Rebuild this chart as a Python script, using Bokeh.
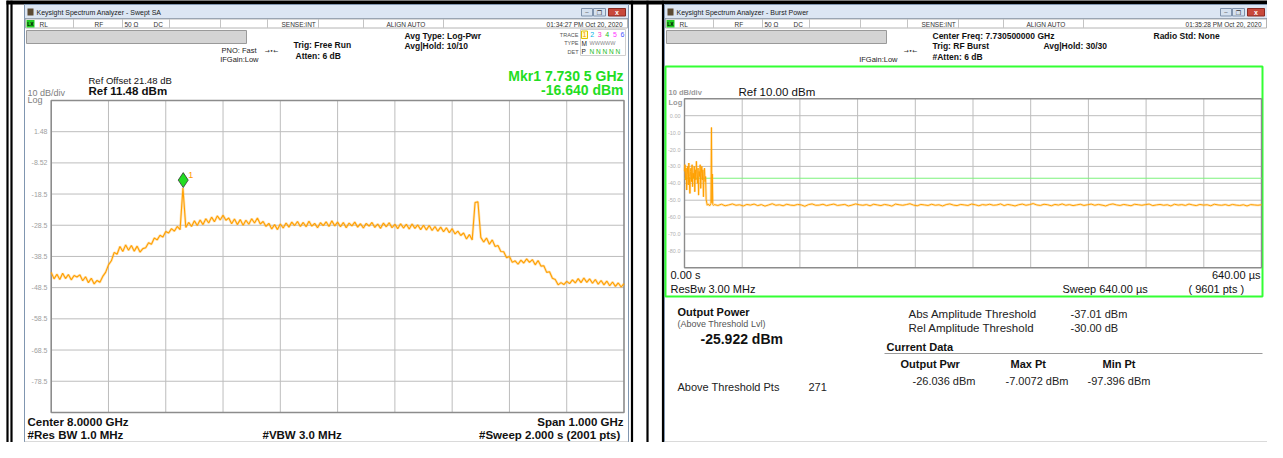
import numpy as np
from bokeh.plotting import figure
from bokeh.models import Range1d
from bokeh.core.properties import value
from bokeh.embed import file_html
from bokeh.resources import INLINE

# ---------------- data: left window (Swept SA) ----------------
swept_start_ghz = 7.5
swept_stop_ghz = 8.5
swept_ref_dbm = 11.48
swept_bottom_dbm = -88.52
swept_ticks_db = [1.48, -8.52, -18.5, -28.5, -38.5, -48.5, -58.5, -68.5, -78.5]
swept_tick_labels = ["1.48", "-8.52", "-18.5", "-28.5", "-38.5", "-48.5", "-58.5", "-68.5", "-78.5"]
swept_dbm = [  # 201 points, 5 MHz apart
    -43.6, -45.7, -44.2, -45.9, -43.9, -45.6, -44.3, -46.0, -44.6, -45.1,
    -44.4, -46.3, -45.0, -46.9, -45.5, -47.3, -46.2, -46.8, -44.9, -43.6, -41.2,
    -39.9, -37.2, -37.8, -35.3, -36.9, -34.8, -36.5, -35.0, -36.8, -35.2,
    -37.1, -36.0, -35.7, -34.1, -34.6, -32.6, -33.2, -31.7, -32.3, -30.5,
    -31.0, -29.6, -30.4, -28.9, -29.9, -16.6, -29.2, -27.6, -28.9, -27.1,
    -28.6, -26.8, -28.3, -26.4, -27.8, -25.9, -27.4, -25.5, -26.8, -25.3,
    -26.9, -26.2, -28.0, -26.5, -28.3, -26.7, -28.5, -26.9, -28.2, -26.4,
    -27.8, -26.2, -28.1, -27.3, -28.9, -27.9, -29.7, -28.3, -29.9, -28.1,
    -29.4, -27.8, -29.1, -27.5, -28.6, -27.3, -28.9, -27.6, -29.0, -27.2,
    -28.8, -27.9, -29.3, -27.7, -28.6, -27.4, -28.9, -27.1, -28.7, -27.5,
    -29.0, -27.6, -29.3, -27.8, -28.7, -27.5, -29.1, -28.0, -29.4, -27.9,
    -28.8, -27.6, -29.2, -28.1, -29.5, -27.8, -29.0, -27.7, -29.3, -28.2,
    -29.6, -28.0, -29.4, -28.2, -29.7, -28.1, -29.5, -28.4, -29.9, -28.5,
    -30.0, -28.6, -30.2, -28.9, -30.4, -29.1, -30.6, -29.3, -30.9, -29.6,
    -31.3, -30.4, -31.8, -31.0, -32.9, -31.5, -33.2, -21.2, -21.0, -32.4,
    -33.9, -32.6, -34.6, -33.2, -35.3, -35.0, -36.9, -37.0, -38.9, -38.5,
    -40.4, -39.9, -41.0, -39.7, -40.6, -39.3, -40.4, -39.5, -41.2, -39.8,
    -41.6, -41.5, -43.6, -43.4, -45.5, -45.9, -47.6, -46.9, -47.5, -46.5,
    -47.2, -46.0, -47.0, -45.6, -46.9, -45.4, -46.8, -45.7, -47.1, -45.9,
    -47.4, -46.2, -47.6, -46.4, -47.9, -46.7, -48.1, -47.0, -48.3, -47.2,
]
marker_ghz = 7.7305
marker_dbm = -16.640

# ---------------- data: right window (Burst Power) ----------------
burst_sweep_us = 640.0
burst_ref_dbm = 10.0
burst_bottom_dbm = -90.0
burst_ticks_db = [0, -10, -20, -30, -40, -50, -60, -70, -80]
burst_tick_labels = ["0.00", "-10.0", "-20.0", "-30.0", "-40.0", "-50.0", "-60.0", "-70.0", "-80.0"]
burst_on_dbm = [  # 0 .. 23.4 us, 0.6 us apart
    -33, -29, -38, -31, -44, -35, -30, -41, -28, -36,
    -46, -33, -31, -39, -29, -42, -34, -37, -30, -45,
    -32, -38, -27, -35, -40, -31, -47, -33, -36, -29,
    -43, -34, -30, -38, -32, -48, -35, -31, -39, -36,
]
spike_us = [24.0, 25.2, 26.5, 27.8, 29.3, 29.9, 30.4, 30.9, 31.4, 32.2]
spike_dbm = [-49.5, -53.0, -52.2, -53.4, -52.0, -7.0, -51.5, -34.5, -52.6, -53.1]
floor_dbm = [  # 33 .. 640 us
    -52.6, -53.1, -52.4, -53.3, -52.8, -52.2, -53.0, -52.7, -53.4, -52.5,
    -52.9, -52.3, -53.2, -52.6, -53.5, -52.8, -52.1, -53.0, -52.7, -53.3,
    -52.4, -52.9, -53.1, -52.5, -52.8, -53.6, -52.6, -52.2, -53.0, -52.9,
    -52.4, -53.2, -52.7, -52.3, -53.1, -52.8, -52.5, -53.4, -52.9, -52.2,
    -52.7, -53.0, -52.6, -53.3, -52.4, -52.8, -53.2, -52.5, -52.9, -53.5,
    -52.3, -52.7, -53.0, -52.6, -52.1, -52.9, -53.3, -52.5, -52.8, -53.1,
    -52.4, -53.0, -52.7, -53.4, -52.6, -52.2, -52.9, -53.2, -52.5, -52.8,
    -53.1, -52.3, -52.7, -53.3, -52.6, -52.9, -52.4, -53.0, -52.8, -52.2,
    -53.2, -52.5, -52.9, -53.4, -52.7, -52.3, -53.0, -52.6, -52.0, -52.8,
    -53.1, -52.4, -52.7, -53.3, -52.5, -52.9, -52.2, -53.0, -52.6, -53.2,
    -52.8, -52.4, -53.1, -52.7, -52.3, -53.0, -52.5, -52.9, -53.4, -52.6,
    -52.2, -52.8, -53.1, -52.5, -52.9, -53.3, -52.4, -52.7, -53.0, -52.6,
    -52.3, -53.2, -52.8, -52.5, -53.0, -52.7, -53.4, -52.4, -52.9, -52.6,
    -53.1, -52.3, -52.8, -53.2, -52.5, -52.9, -52.7, -53.3, -52.4, -52.8,
    -53.0, -52.6, -53.2, -52.5, -52.9, -53.1, -52.7, -53.4, -52.6, -52.8,
    -53.0, -52.7,
]
abs_threshold_dbm = -37.01

# ---------------- layout (reference pixel coordinates) ----------------
FX0, FX1, FY0, FY1 = 0, 1267, 0, 442          # area of the reference covered by the canvas
LWX = (24, 628)                                 # left window
RWX = (664, 1267)                               # right window
LPX, LPY = (50.7, 623.5), (100.0, 412.0)        # left plot frame
RPX, RPY = (684.0, 1261.0), (98.3, 267.3)       # right plot frame
FONT = "Liberation Sans"

p = figure(width=FX1 - FX0, height=FY1 - FY0, x_range=Range1d(FX0, FX1), y_range=Range1d(FY1, FY0),
           output_backend="svg", toolbar_location=None, min_border=0,
           x_axis_location=None, y_axis_location=None)
p.grid.visible = False
p.outline_line_color = None
p.background_fill_color = "white"
p.border_fill_color = "white"


def mapped_range(d_a, d_b, px_a, px_b, frame_a, frame_b):
    k = (d_b - d_a) / (px_b - px_a)
    return Range1d(start=d_a + (frame_a - px_a) * k, end=d_a + (frame_b - px_a) * k)


p.extra_x_ranges = {
    "lf": mapped_range(swept_start_ghz, swept_stop_ghz, LPX[0], LPX[1], FX0, FX1),
    "rt": mapped_range(0.0, burst_sweep_us, RPX[0], RPX[1], FX0, FX1),
}
p.extra_y_ranges = {
    "ld": mapped_range(swept_ref_dbm, swept_bottom_dbm, LPY[0], LPY[1], FY1, FY0),
    "rd": mapped_range(burst_ref_dbm, burst_bottom_dbm, RPY[0], RPY[1], FY1, FY0),
}


def T(x, y, s, size=8, color="#000000", bold=False, align="left", font=FONT, **kw):
    p.text(x=[x], y=[y], text=[s], text_font=value(font), text_font_size=f"{size}px",
           text_color=color, text_align=align, text_baseline="middle",
           text_font_style="bold" if bold else "normal", **kw)


def box(l, r, t, b, fill="white", line="#9a9a9a", lw=1, **kw):
    p.quad(left=l, right=r, top=t, bottom=b, fill_color=fill, line_color=line, line_width=lw, **kw)


def hline(x0, x1, y, color="#b0b0b0", lw=1):
    p.segment(x0=[x0], y0=[y], x1=[x1], y1=[y], line_color=color, line_width=lw)


def vline(x, y0, y1, color="#b0b0b0", lw=1):
    p.segment(x0=[x], y0=[y0], x1=[x], y1=[y1], line_color=color, line_width=lw)


# black frame lines of the composite image
box(6, 1283, -2, 4, fill="#000000", line=None)
for bx in (7, 11, 631.5, 647, 662.5, 1269):
    vline(bx, 0, 460, color="#000000", lw=2.2)


def window(x0, x1, title, clock):
    box(x0, x1, 4, 460, fill="white", line="#8096b0")
    box(x0, x1, 4, 18, fill="#dce6f3", line="#8096b0")
    box(x0 + 3, x0 + 9, 8, 15, fill="#5c4b33", line=None)
    T(x0 + 12, 11.5, title, 7, "#1a1a1a")
    box(x1 - 47, x1 - 36, 8, 15.5, fill="#d5e1ef", line="#7f93ad")
    box(x1 - 35, x1 - 23, 8, 15.5, fill="#d5e1ef", line="#7f93ad")
    box(x1 - 20, x1 - 3, 8, 15.5, fill="#c8493c", line="#8a2a22")
    T(x1 - 41.5, 11.5, "–", 6, "#333333", align="center")
    T(x1 - 29, 11.5, "❐", 6, "#333333", align="center", font="DejaVu Sans")
    T(x1 - 11.5, 11.5, "x", 7, "#ffffff", bold=True, align="center")
    # status row
    box(x0 + 1, x1 - 1, 18.5, 27.5, fill="white", line="#b4b4b4")
    box(x0 + 2, x0 + 10, 19.5, 27, fill="#22cc22", line=None)
    T(x0 + 6, 23.5, "LX", 5, "#000000", bold=True, align="center")
    for off in (49, 98, 145, 196, 243, 294, 339, 419):
        vline(x0 + off, 18.5, 27.5, color="#c4c4c4")
    T(x0 + 15, 23.5, "RL", 6.5, "#333333")
    T(x0 + 70, 23.5, "RF", 6.5, "#333333")
    T(x0 + 100, 23.5, "50 Ω", 6.5, "#333333")
    T(x0 + 129, 23.5, "DC", 6.5, "#333333")
    T(x0 + 257, 23.5, "SENSE:INT", 6.5, "#333333")
    T(x0 + 362, 23.5, "ALIGN AUTO", 6.5, "#333333")
    T(x1 - 6, 23.5, clock, 6.5, "#333333", align="right")
    # grey bar
    box(x0 + 2, x0 + 222, 30, 43, fill="#d4d4d4", line="#9a9a9a")
    # message row border (row itself lies below the canvas)
    hline(x0, x1, 441.5, color="#b4b4b4")


window(LWX[0], LWX[1], "Keysight Spectrum Analyzer - Swept SA", "01:34:27 PM Oct 20, 2020")
window(RWX[0], RWX[1], "Keysight Spectrum Analyzer - Burst Power", "01:35:28 PM Oct 20, 2020")

# ---------------- left window: settings text ----------------
T(256, 49.5, "PNO: Fast", 7.5, "#222222", align="right")
T(258, 58.5, "IFGain:Low", 7.5, "#222222", align="right")
T(271, 49.5, "→•←", 6, "#333333", align="center", font="DejaVu Sans")
T(293, 44.5, "Trig: Free Run", 8.5, "#111111", bold=True)
T(295, 55.5, "Atten: 6 dB", 8.5, "#111111", bold=True)
T(404, 35, "Avg Type: Log-Pwr", 8.5, "#111111", bold=True)
T(404, 45.5, "Avg|Hold: 10/10", 8.5, "#111111", bold=True)
box(580, 625, 29, 55, fill="white", line="#d0d0d0")
T(578, 34, "TRACE", 5.5, "#555555", align="right")
T(578, 42.5, "TYPE", 5.5, "#555555", align="right")
T(578, 51, "DET", 5.5, "#555555", align="right")
box(581, 587, 30.5, 38, fill="#ffffcc", line="#e0c000")
for i, (d, c) in enumerate(zip("123456", ["#ff9900", "#00b4e6", "#ff33cc", "#22bb22", "#ff33ff", "#4455ff"])):
    T(584 + i * 7.6, 34, d, 7, c, align="center")
T(581, 42.5, "M", 6.5, "#222222")
T(589, 42.5, "WWWWW", 5.5, "#888888")
T(581, 51, "P", 6.5, "#222222")
T(589, 51, "N N N N N", 6.5, "#22bb22")

T(88, 80, "Ref Offset 21.48 dB", 9.5, "#111111")
T(88, 90.5, "Ref 11.48 dBm", 11.5, "#111111", bold=True)
T(27, 92, "10 dB/div", 9, "#808080")
T(27, 99.5, "Log", 9, "#808080")
T(623, 75, "Mkr1 7.730 5 GHz", 14, "#22dd22", bold=True, align="right")
T(623, 89.5, f"{marker_dbm:.3f} dBm", 14, "#22dd22", bold=True, align="right")

# left plot grid + frame
lf_grid_x = list(np.linspace(swept_start_ghz, swept_stop_ghz, 11)[1:-1])
p.segment(x0=lf_grid_x, y0=[swept_ref_dbm] * 9, x1=lf_grid_x, y1=[swept_bottom_dbm] * 9,
          line_color="#bdbdbd", x_range_name="lf", y_range_name="ld")
p.segment(x0=[swept_start_ghz] * 9, y0=swept_ticks_db, x1=[swept_stop_ghz] * 9, y1=swept_ticks_db,
          line_color="#bdbdbd", x_range_name="lf", y_range_name="ld")
p.quad(left=swept_start_ghz, right=swept_stop_ghz, top=swept_ref_dbm, bottom=swept_bottom_dbm,
       fill_color=None, line_color="#8c8c8c", line_width=1.6, x_range_name="lf", y_range_name="ld")
p.text(x=[47] * 9, y=swept_ticks_db, text=swept_tick_labels, y_range_name="ld",
       text_font=value(FONT), text_font_size="7px", text_color="#a0a0a0",
       text_align="right", text_baseline="middle")

swept_ghz = np.linspace(swept_start_ghz, swept_stop_ghz, len(swept_dbm))
p.line(swept_ghz, swept_dbm, line_color="#ffb030", line_width=2.6, line_alpha=0.35,
       x_range_name="lf", y_range_name="ld")
p.line(swept_ghz, swept_dbm, line_color="#ffa000", line_width=1.1,
       x_range_name="lf", y_range_name="ld")
MKR_LIFT_DB = 2.6
p.scatter([marker_ghz], [marker_dbm + MKR_LIFT_DB], marker="diamond", size=15,
          fill_color="#22dd22", line_color="#333333", line_width=0.8,
          x_range_name="lf", y_range_name="ld")
p.text(x=[marker_ghz], y=[marker_dbm], text=["1"], x_offset=5, y_offset=-13,
       text_font=value(FONT), text_font_size="9px", text_color="#ff9900",
       text_baseline="middle", x_range_name="lf", y_range_name="ld")

T(27, 421, "Center 8.0000 GHz", 11.5, "#111111", bold=True)
T(623, 421, "Span 1.000 GHz", 11.5, "#111111", bold=True, align="right")
T(27, 434, "#Res BW 1.0 MHz", 11.5, "#111111", bold=True)
T(262, 434, "#VBW 3.0 MHz", 11.5, "#111111", bold=True)
T(623, 434, "#Sweep  2.000 s (2001 pts)", 11.5, "#111111", bold=True, align="right")

# ---------------- right window ----------------
T(932, 35, "Center Freq: 7.730500000 GHz", 8.5, "#111111", bold=True)
T(932, 45.5, "Trig: RF Burst", 8.5, "#111111", bold=True)
T(932, 56, "#Atten: 6 dB", 8.5, "#111111", bold=True)
T(1043, 45.5, "Avg|Hold: 30/30", 8.5, "#111111", bold=True)
T(1153, 35, "Radio Std: None", 8.5, "#111111", bold=True)
T(897, 58.5, "IFGain:Low", 7.5, "#222222", align="right")
T(910, 49.5, "→•←", 6, "#333333", align="center", font="DejaVu Sans")

box(665, 1262, 66, 296, fill="white", line="#33ff33", lw=2)
T(668, 91.5, "10 dB/div", 7.5, "#9a9a9a", bold=True)
T(668, 101.5, "Log", 7.5, "#9a9a9a", bold=True)
T(738, 91.5, "Ref 10.00 dBm", 11.5, "#111111")

rt_grid_x = list(np.linspace(0.0, burst_sweep_us, 11)[1:-1])
p.segment(x0=rt_grid_x, y0=[burst_ref_dbm] * 9, x1=rt_grid_x, y1=[burst_bottom_dbm] * 9,
          line_color="#bdbdbd", x_range_name="rt", y_range_name="rd")
p.segment(x0=[0.0] * 9, y0=burst_ticks_db, x1=[burst_sweep_us] * 9, y1=burst_ticks_db,
          line_color="#bdbdbd", x_range_name="rt", y_range_name="rd")
p.quad(left=0.0, right=burst_sweep_us, top=burst_ref_dbm, bottom=burst_bottom_dbm,
       fill_color=None, line_color="#8c8c8c", line_width=1.4, x_range_name="rt", y_range_name="rd")
p.text(x=[680] * 9, y=burst_ticks_db, text=burst_tick_labels, y_range_name="rd",
       text_font=value(FONT), text_font_size="5.5px", text_color="#b0b0b0",
       text_align="right", text_baseline="middle")
p.segment(x0=[0.0], y0=[abs_threshold_dbm], x1=[burst_sweep_us], y1=[abs_threshold_dbm],
          line_color="#7cf27c", line_width=1, x_range_name="rt", y_range_name="rd")

burst_t = list(np.arange(len(burst_on_dbm)) * 0.6)
floor_t = list(np.linspace(33.0, burst_sweep_us, len(floor_dbm)))
rt_t = burst_t + spike_us + floor_t
rt_db = burst_on_dbm + spike_dbm + floor_dbm
p.line(rt_t, rt_db, line_color="#ffb030", line_width=2.6, line_alpha=0.3,
       x_range_name="rt", y_range_name="rd")
p.line(rt_t, rt_db, line_color="#ffa000", line_width=1.0, x_range_name="rt", y_range_name="rd")

T(670, 274.5, "0.00 s", 11, "#111111")
T(670, 288.5, "ResBw 3.00 MHz", 11, "#111111")
T(1260, 274.5, "640.00 µs", 11, "#111111", align="right")
T(1062, 288.5, "Sweep 640.00 µs", 11, "#111111")
T(1188, 288.5, "( 9601 pts )", 11, "#111111")

# results panel
T(677, 311.5, "Output Power", 11, "#111111", bold=True)
T(677, 323.5, "(Above Threshold Lvl)", 9, "#555555")
T(700, 338.5, "-25.922 dBm", 14, "#111111", bold=True)
T(908, 313, "Abs Amplitude Threshold", 11.5, "#222222")
T(908, 327, "Rel Amplitude Threshold", 11.5, "#222222")
T(1070, 313, f"{abs_threshold_dbm:.2f} dBm", 11, "#222222")
T(1070, 327, "-30.00 dB", 11, "#222222")
T(886, 346, "Current Data", 11, "#111111", bold=True)
hline(884, 1262, 353, color="#9a9a9a")
T(900, 363.5, "Output Pwr", 11, "#111111", bold=True)
T(1010, 363.5, "Max Pt", 11, "#111111", bold=True)
T(1102, 363.5, "Min Pt", 11, "#111111", bold=True)
T(912, 380, "-26.036 dBm", 11, "#222222")
T(1005, 380, "-7.0072 dBm", 11, "#222222")
T(1087, 380, "-97.396 dBm", 11, "#222222")
T(677, 386, "Above Threshold Pts", 11, "#222222")
T(808, 386, "271", 11, "#222222")

with open("out.html", "w", encoding="utf-8") as f:
    f.write(file_html(p, INLINE))
